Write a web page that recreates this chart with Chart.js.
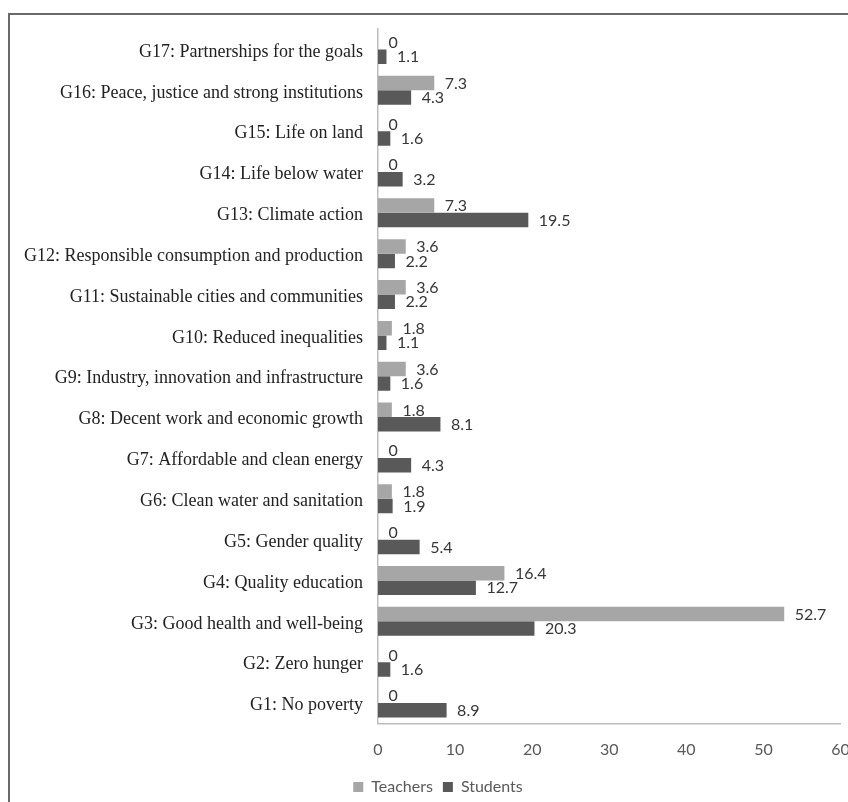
<!DOCTYPE html>
<html>
<head>
<meta charset="utf-8">
<script src="https://cdn.jsdelivr.net/npm/chart.js@4/dist/chart.umd.min.js"></script>
<style>
  html, body { margin: 0; padding: 0; background: #fff; overflow: hidden; width: 848px; height: 802px; }
  #frame { position: absolute; left: 8px; top: 13px; width: 900px; height: 800px; border: 2px solid #6a6a6a; box-sizing: border-box; }
  #wrap { position: absolute; left: 0; top: 0; width: 862px; height: 790px; }
</style>
</head>
<body>
<div id="frame"><div id="wrap"><canvas id="c"></canvas></div></div>
<script>
// SDG goals, listed top to bottom
const goals = [
  "G17: Partnerships for the goals",
  "G16: Peace, justice and strong institutions",
  "G15: Life on land",
  "G14: Life below water",
  "G13: Climate action",
  "G12: Responsible consumption and production",
  "G11: Sustainable cities and communities",
  "G10: Reduced inequalities",
  "G9: Industry, innovation and infrastructure",
  "G8: Decent work and economic growth",
  "G7: Affordable and clean energy",
  "G6: Clean water and sanitation",
  "G5: Gender quality",
  "G4: Quality education",
  "G3: Good health and well-being",
  "G2: Zero hunger",
  "G1: No poverty"
];
// percentages per goal, same order
const teachers = [0, 7.3, 0, 0, 7.3, 3.6, 3.6, 1.8, 3.6, 1.8, 0, 1.8, 0, 16.4, 52.7, 0, 0];
const students = [1.1, 4.3, 1.6, 3.2, 19.5, 2.2, 2.2, 1.1, 1.6, 8.1, 4.3, 1.9, 5.4, 12.7, 20.3, 1.6, 8.9];
const xTicks = [0, 10, 20, 30, 40, 50, 60];

// value labels drawn just past the end of each bar
const barValueLabels = {
  id: 'barValueLabels',
  afterDatasetsDraw(chart) {
    const ctx = chart.ctx;
    ctx.save();
    ctx.font = '16px Lato';
    ctx.fillStyle = '#363636';
    ctx.textAlign = 'left';
    ctx.textBaseline = 'middle';
    chart.data.datasets.forEach((ds, i) => {
      const meta = chart.getDatasetMeta(i);
      meta.data.forEach((el, j) => {
        ctx.fillText(String(ds.data[j]), el.x + 10.5, el.y + 0.5);
      });
    });
    ctx.restore();
  }
};

// nudge the legend row a little to the right of the plot's centre
const legendShift = {
  id: 'legendShift',
  afterLayout(chart) {
    if (chart.legend) {
      chart.legend.left += 12.75;
      chart.legend.right += 12.75;
    }
  }
};

new Chart(document.getElementById('c'), {
  type: 'bar',
  data: {
    labels: goals,
    datasets: [
      { label: 'Teachers', data: teachers, backgroundColor: '#a6a6a6', borderWidth: 0 },
      { label: 'Students', data: students, backgroundColor: '#595959', borderWidth: 0 }
    ]
  },
  options: {
    indexAxis: 'y',
    responsive: true,
    maintainAspectRatio: false,
    animation: false,
    datasets: { bar: { categoryPercentage: 0.71, barPercentage: 1.0 } },
    layout: { padding: { top: 14, right: 31.5, bottom: 0, left: 0 } },
    scales: {
      x: {
        min: 0, max: 60,
        afterBuildTicks(scale) { scale.ticks = xTicks.map(v => ({ value: v })); },
        afterFit(scale) { scale.height = 45.5; },
        grid: { display: false, drawTicks: false },
        border: { display: true, color: '#bdbdbd', width: 1.5 },
        ticks: { padding: 16.5, color: '#595959', font: { family: 'Lato', size: 16 } }
      },
      y: {
        afterFit(scale) {
          scale.width = 368;
          scale.paddingTop = 0;
          scale.paddingBottom = 0;
        },
        grid: { display: false, drawTicks: false },
        border: { display: true, color: '#bdbdbd', width: 1.5 },
        ticks: { padding: 15, labelOffset: 2.5, color: '#222222', font: { family: 'Liberation Serif', size: 18 }, autoSkip: false }
      }
    },
    plugins: {
      legend: {
        position: 'bottom',
        labels: { boxWidth: 10, boxHeight: 10, padding: 10, color: '#595959', font: { family: 'Lato', size: 16 } }
      },
      tooltip: { enabled: false }
    }
  },
  plugins: [barValueLabels, legendShift]
});
</script>
</body>
</html>
